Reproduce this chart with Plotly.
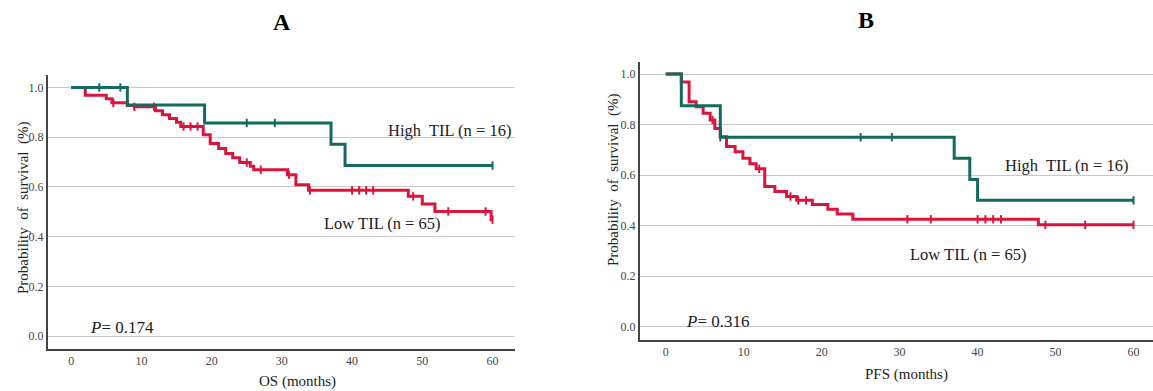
import numpy as np
import plotly.graph_objects as go

# ---------------- data ----------------
# Panel A : overall survival
os_high_t = [0, 8, 19, 37, 39]
os_high_s = [1.0, 0.929, 0.857, 0.771, 0.686]
os_high_cens = [4, 7, 25, 29, 60]

os_low_t = [0, 2, 5, 5.8, 8, 9, 12, 13, 14, 15, 15.6, 18.8, 19.8, 21, 22, 23, 24,
            25.5, 26, 30.8, 32, 33.8, 48, 50, 51.8, 59.8]
os_low_s = [1.0, 0.969, 0.954, 0.938, 0.927, 0.922, 0.906, 0.89, 0.875, 0.86, 0.843,
            0.81, 0.774, 0.754, 0.734, 0.717, 0.698, 0.683, 0.669, 0.649, 0.609, 0.586,
            0.562, 0.531, 0.501, 0.468]
os_low_cens = [6, 9, 11.8, 16, 17, 18, 25, 27, 31, 34, 40, 41, 42, 43, 48.7, 53.7, 59, 60]

# Panel B : progression-free survival
pfs_high_t = [0, 2, 7, 37, 39, 40]
pfs_high_s = [1.0, 0.875, 0.75, 0.667, 0.583, 0.5]
pfs_high_cens = [7, 25, 29, 60]

pfs_low_t = [0, 2, 3, 3.9, 4.8, 5.7, 6.3, 7, 7.8, 8.9, 9.9, 10.8, 11.6, 12.7, 14, 15.5,
             16.8, 18.8, 20.8, 22, 24, 47.8]
pfs_low_s = [1.0, 0.969, 0.891, 0.871, 0.845, 0.818, 0.785, 0.752, 0.713, 0.693, 0.667,
             0.645, 0.625, 0.555, 0.535, 0.515, 0.50, 0.484, 0.465, 0.446, 0.425, 0.403]
pfs_low_cens = [6, 12, 16, 17, 18, 31, 34, 40, 41, 42, 43, 48.7, 53.8, 60]

END_T = 60
x_ticks = [0, 10, 20, 30, 40, 50, 60]
y_ticks = [0.0, 0.2, 0.4, 0.6, 0.8, 1.0]
y_ticklabels = ["0.0", "0.2", "0.4", "0.6", "0.8", "1.0"]

GREEN = "#146b5d"
RED = "#dc143c"
SERIF = "Liberation Serif"

fig = go.Figure()


def add_km(t, s, cens, color, xa, ya):
    tt = list(t) + [END_T]
    ss = list(s) + [s[-1]]
    fig.add_trace(go.Scatter(x=tt, y=ss, mode="lines", line=dict(color=color, width=3, shape="hv"),
                             xaxis=xa, yaxis=ya, showlegend=False, hoverinfo="skip"))
    idx = np.searchsorted(np.array(t), np.array(cens), side="right") - 1
    cy = [s[i] for i in idx]
    fig.add_trace(go.Scatter(x=cens, y=cy, mode="markers",
                             marker=dict(symbol="line-ns", size=6, line=dict(color=color, width=2)),
                             xaxis=xa, yaxis=ya, showlegend=False, hoverinfo="skip"))


add_km(os_low_t, os_low_s, os_low_cens, RED, "x", "y")
add_km(os_high_t, os_high_s, os_high_cens, GREEN, "x", "y")
add_km(pfs_low_t, pfs_low_s, pfs_low_cens, RED, "x2", "y2")
add_km(pfs_high_t, pfs_high_s, pfs_high_cens, GREEN, "x2", "y2")

W, H = 1153, 391

def xdom(a, b):
    return [a / W, b / W]

def ydom(top, bot):
    return [(H - bot) / H, (H - top) / H]

axis_common_x = dict(tickvals=x_ticks, showgrid=False, zeroline=False, showline=True,
                     linecolor="#444", linewidth=2, ticks="", ticklabelstandoff=0,
                     tickfont=dict(family=SERIF, size=12, color="#444"))
axis_common_y = dict(tickvals=y_ticks, ticktext=y_ticklabels, showgrid=True, gridcolor="#c8c8c8",
                     gridwidth=1, zeroline=False, showline=True, linecolor="#444", linewidth=2,
                     ticks="", ticklabelstandoff=0,
                     tickfont=dict(family=SERIF, size=12, color="#444"))

fig.update_layout(
    width=W, height=H, margin=dict(l=0, r=0, t=0, b=0),
    paper_bgcolor="white", plot_bgcolor="white",
    xaxis=dict(domain=xdom(48, 515), range=[-3.3, 63.2], anchor="y", **axis_common_x),
    yaxis=dict(domain=ydom(75, 349), range=[-0.052, 1.05], anchor="x", **axis_common_y),
    xaxis2=dict(domain=xdom(640, 1153), range=[-3.3, 62.5], anchor="y2", **axis_common_x),
    yaxis2=dict(domain=ydom(62, 340), range=[-0.053, 1.048], anchor="x2", **axis_common_y),
)

ann = []
txt = dict(family=SERIF, size=15, color="#222")
lab = dict(family=SERIF, size=16.5, color="#222")
ptxt = dict(family=SERIF, size=17, color="#222")


def paper_text(px, py, text, font, angle=0):
    ann.append(dict(x=px / W, y=(H - py) / H, xref="paper", yref="paper", text=text,
                    xanchor="center", yanchor="middle", textangle=angle,
                    showarrow=False, font=font))


# titles
paper_text(282, 22, "<b>A</b>", dict(family=SERIF, size=24, color="black"))
paper_text(866, 20, "<b>B</b>", dict(family=SERIF, size=24, color="black"))
# axis titles
paper_text(297, 381, "OS (months)", txt)
paper_text(906, 374, "PFS (months)", txt)
paper_text(23, 208, "Probability\u00a0 of\u00a0 survival\u00a0 (%)", txt, -90)
paper_text(613, 180, "Probability\u00a0 of\u00a0 survival\u00a0 (%)", txt, -90)

# in-plot labels
def data_text(x, y, xr, yr, text, font):
    ann.append(dict(x=x, y=y, xref=xr, yref=yr, xanchor="left", yanchor="middle", text=text,
                    showarrow=False, font=font))


data_text(44.9, 0.827, "x", "y", "High\u00a0 TIL (n = 16)", lab)
data_text(35.7, 0.454, "x", "y", "Low TIL (n = 65)", lab)
data_text(2.4, 0.035, "x", "y", "<i>P</i>= 0.174", ptxt)
data_text(43.2, 0.64, "x2", "y2", "High\u00a0 TIL (n = 16)", lab)
data_text(31.1, 0.284, "x2", "y2", "Low TIL (n = 65)", lab)
data_text(2.4, 0.02, "x2", "y2", "<i>P</i>= 0.316", ptxt)
fig.update_layout(annotations=ann)

fig.write_html("out.html")
